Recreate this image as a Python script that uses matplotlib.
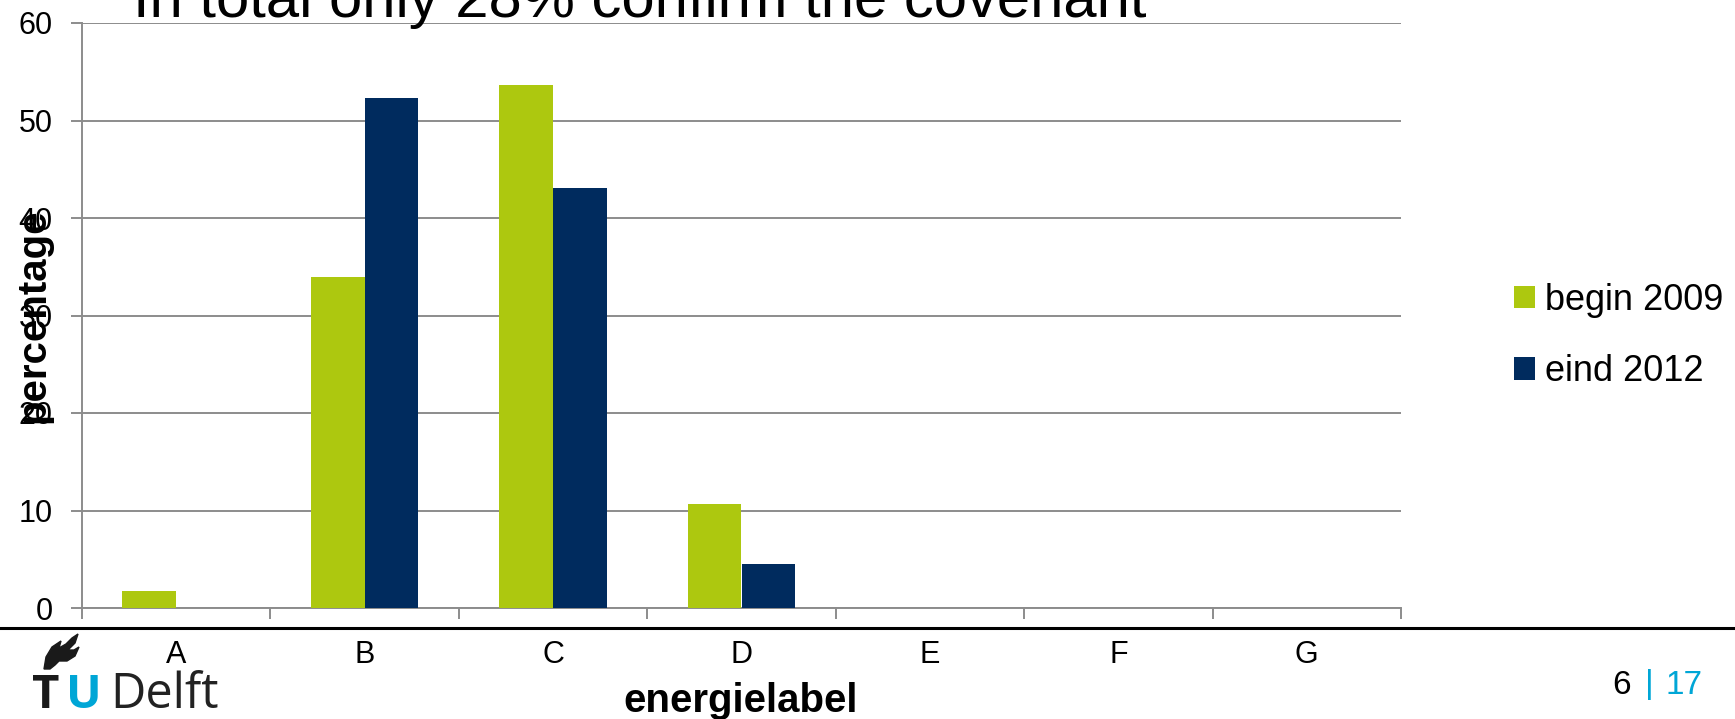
import matplotlib
matplotlib.use('Agg')
import matplotlib.pyplot as plt
from matplotlib.patches import Polygon
from matplotlib.lines import Line2D
import numpy as np

labels = ['A', 'B', 'C', 'D', 'E', 'F', 'G']
begin_2009 = [1.7, 33.9, 53.6, 10.7, 0, 0, 0]
eind_2012 = [0, 52.3, 43.1, 4.5, 0, 0, 0]
series_names = ['begin 2009', 'eind 2012']

green = '#adc80f'
navy = '#002b5e'
grid_grey = '#8c8c8c'
tud_blue = '#00a6d6'

plt.rcParams['font.family'] = ['Liberation Sans', 'DejaVu Sans']

W, H = 1735, 719
fig = plt.figure(figsize=(W / 100, H / 100), dpi=100)

def fx(px): return px / W
def fy(py): return 1 - py / H

ax = fig.add_axes([fx(82), fy(608), fx(1401) - fx(82), fy(23) - fy(608)])

x = np.arange(len(labels))
w = 1 / 3.5
ax.bar(x - w / 2, begin_2009, w, color=green, label=series_names[0], zorder=3)
ax.bar(x + w / 2, eind_2012, w, color=navy, label=series_names[1], zorder=3)

ax.set_xlim(-0.5, len(labels) - 0.5)
ax.set_ylim(0, 60)
ax.set_yticks(range(0, 61, 10))
ax.yaxis.grid(True, color=grid_grey, lw=1.4, zorder=0)
ax.set_axisbelow(True)

# category boundaries carry the tick marks, names sit between them
ax.set_xticks(np.arange(-0.5, len(labels), 1))
ax.set_xticklabels([])
ax.set_xticks(x, minor=True)
ax.set_xticklabels(labels, minor=True)
ax.tick_params(axis='x', which='major', length=8, width=1.4, color=grid_grey, direction='out')
ax.tick_params(axis='x', which='minor', length=0, pad=23, labelsize=22)
ax.tick_params(axis='y', length=8, width=1.4, color=grid_grey, pad=13, labelsize=22)

for s in ['top', 'right']:
    ax.spines[s].set_visible(False)
for s in ['left', 'bottom']:
    ax.spines[s].set_color(grid_grey)
    ax.spines[s].set_linewidth(1.4)

leg = ax.legend(loc='center left', bbox_to_anchor=(fx(1514), fy(336)),
                bbox_transform=fig.transFigure, frameon=False, fontsize=26,
                handlelength=0.58, handleheight=0.58, handletextpad=0.28,
                labelspacing=1.0, borderpad=0, borderaxespad=0)

fig.text(fx(33), fy(316), 'percentage', rotation=90, ha='center', va='center',
         fontsize=29, fontweight='bold')
fig.text(fx(741), fy(701), 'energielabel', ha='center', va='center',
         fontsize=29, fontweight='bold')

fig.text(fx(133), fy(17), 'In total only 28% confirm the covenant',
         ha='left', va='baseline', fontsize=43)

# slide footer
fig.add_artist(Line2D([0, 1], [fy(628), fy(628)], color='black', lw=2.2,
                      transform=fig.transFigure))
fig.text(fx(1622), fy(685), '6', ha='center', va='center', fontsize=24)
fig.text(fx(1649), fy(685), '|', ha='center', va='center', fontsize=24, color=tud_blue)
fig.text(fx(1684), fy(685), '17', ha='center', va='center', fontsize=24, color=tud_blue)

logo_font = ['Open Sans', 'DejaVu Sans']
fig.text(fx(32), fy(708), 'T', ha='left', va='baseline', fontsize=34,
         fontweight='bold', color='#1a1a1a', family=logo_font)
fig.text(fx(66), fy(708), 'U', ha='left', va='baseline', fontsize=34,
         fontweight='bold', color=tud_blue, family=logo_font)
fig.text(fx(110), fy(708), 'Delft', ha='left', va='baseline', fontsize=35,
         color='#222222', family=logo_font)

flame = [(44, 669), (46, 657), (52, 647), (61, 641), (59, 648), (66, 644),
         (72, 638), (78, 634), (75, 643), (68, 650), (74, 650), (79, 647),
         (75, 656), (67, 661), (59, 661), (55, 665), (50, 669)]
fig.add_artist(Polygon([(fx(a), fy(b)) for a, b in flame], closed=True,
                       color='#1a1a1a', transform=fig.transFigure))

fig.savefig('out.png', dpi=100)
